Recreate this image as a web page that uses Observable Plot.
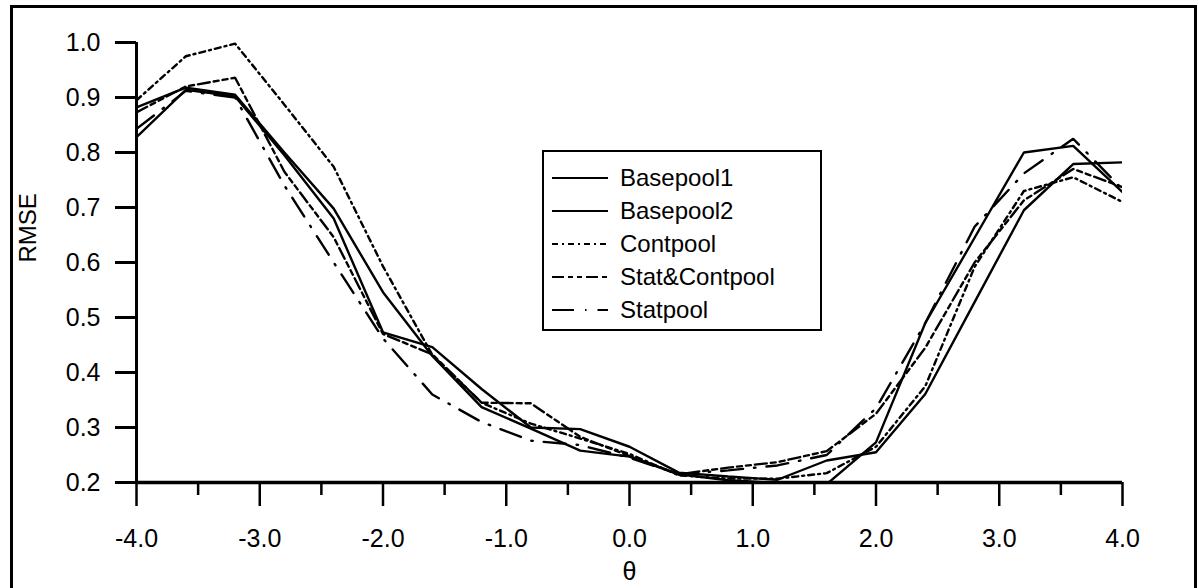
<!DOCTYPE html>
<html><head><meta charset="utf-8">
<script src="https://cdn.jsdelivr.net/npm/d3@7"></script>
<script src="https://cdn.jsdelivr.net/npm/@observablehq/plot@0.6"></script>
<style>
body{margin:0;background:#fff;}
#wrap{position:relative;width:1199px;height:588px;overflow:hidden;font-family:"Liberation Sans",Arial,Helvetica,sans-serif;background:#fff;}
#frame{position:absolute;left:10px;top:5px;width:1187px;height:620px;border:3px solid #000;box-sizing:border-box;pointer-events:none;}
#legend{position:absolute;left:542px;top:150px;width:280px;height:181px;border:2px solid #000;box-sizing:border-box;background:#fff;padding-top:9px;}
.row{height:33px;display:flex;align-items:center;font-size:24px;color:#000;}
.row svg{margin-left:8px;margin-right:12px;}
</style></head><body><div id="wrap"><div id="frame"></div></div>
<script>
const theta = [-4.0,-3.6,-3.2,-2.8,-2.4,-2.0,-1.6,-1.2,-0.8,-0.4,0.0,0.4,0.8,1.2,1.6,2.0,2.4,2.8,3.2,3.6,4.0];
const basepool1 = [0.882,0.918,0.905,0.800,0.698,0.546,0.430,0.337,0.298,0.258,0.247,0.215,0.204,0.199,0.197,0.273,0.490,0.645,0.800,0.812,0.728];
const basepool2 = [0.828,0.914,0.902,0.795,0.680,0.473,0.446,0.370,0.300,0.297,0.265,0.218,0.211,0.205,0.240,0.255,0.361,0.528,0.695,0.779,0.782];
const contpool  = [0.895,0.975,0.998,0.887,0.774,0.593,0.432,0.345,0.307,0.280,0.252,0.213,0.207,0.207,0.217,0.265,0.375,0.592,0.730,0.755,0.710];
const statcont  = [0.873,0.920,0.936,0.765,0.646,0.470,0.433,0.345,0.344,0.283,0.248,0.215,0.227,0.237,0.257,0.325,0.445,0.600,0.713,0.770,0.737];
const statpool  = [0.843,0.912,0.900,0.740,0.600,0.462,0.360,0.310,0.276,0.268,0.245,0.215,0.222,0.231,0.250,0.335,0.490,0.665,0.762,0.825,0.733];

const seriesNames = ["Basepool1","Basepool2","Contpool","Stat&Contpool","Statpool"];
const seriesValues = [basepool1, basepool2, contpool, statcont, statpool];
const seriesDash = [null, null, "6,4,2,4", "12,4,5,4,5,4", "22,11,1.5,11"];

const yTicks = [0.2,0.3,0.4,0.5,0.6,0.7,0.8,0.9,1.0];
const xMajor = [-4,-3,-2,-1,0,1,2,3,4];
const xMinor = [-3.5,-2.5,-1.5,-0.5,0.5,1.5,2.5,3.5];
const yTitle = "RMSE";
const xTitle = "θ";

const lineMarks = seriesNames.map((name, k) => {
  const data = theta.map((t, i) => ({theta: t, value: seriesValues[k][i]}));
  const opts = {x: "theta", y: "value", stroke: "#000", strokeWidth: 2.4, clip: true, strokeLinejoin: "miter"};
  if (seriesDash[k]) opts.strokeDasharray = seriesDash[k];
  return Plot.line(data, opts);
});

const chart = Plot.plot({
  width: 1199, height: 588,
  marginLeft: 136, marginRight: 77, marginTop: 42, marginBottom: 106,
  style: {fontFamily: "Liberation Sans, Arial, Helvetica, sans-serif", fontSize: "25px", color: "#000", background: "transparent", overflow: "visible"},
  x: {domain: [-4, 4]},
  y: {domain: [0.2, 1.0]},
  marks: [
    Plot.axisY({ticks: yTicks, tickSize: 21, tickPadding: 15, tickFormat: d => d.toFixed(1), strokeWidth: 3, label: null, fontSize: 25}),
    Plot.axisX({ticks: xMajor, tickSize: 24, tickPadding: 23, tickFormat: d => d.toFixed(1), strokeWidth: 2.5, label: null, fontSize: 25}),
    Plot.axisX({ticks: xMinor, tickSize: 13, tickFormat: () => "", strokeWidth: 2.5, label: null}),
    ...lineMarks,
    Plot.ruleX([-4], {strokeWidth: 3}),
    Plot.ruleY([0.2], {strokeWidth: 3.5}),
    Plot.text([yTitle], {text: d => d, frameAnchor: "left", dx: -108, rotate: -90, fontSize: 24}),
    Plot.text([xTitle], {text: d => d, frameAnchor: "bottom", dy: 97, fontSize: 25})
  ]
});
chart.style.position = "absolute";
chart.style.left = "0px";
chart.style.top = "0px";
const wrap = document.getElementById("wrap");
wrap.insertBefore(chart, wrap.firstChild);

// legend
const legend = document.createElement("div");
legend.id = "legend";
seriesNames.forEach((name, k) => {
  const row = document.createElement("div");
  row.className = "row";
  const ns = "http://www.w3.org/2000/svg";
  const s = document.createElementNS(ns, "svg");
  s.setAttribute("width", "56"); s.setAttribute("height", "10");
  const ln = document.createElementNS(ns, "line");
  ln.setAttribute("x1", "0"); ln.setAttribute("x2", "56");
  ln.setAttribute("y1", "5"); ln.setAttribute("y2", "5");
  ln.setAttribute("stroke", "#000"); ln.setAttribute("stroke-width", "2");
  if (seriesDash[k]) ln.setAttribute("stroke-dasharray", seriesDash[k]);
  s.appendChild(ln);
  row.appendChild(s);
  const span = document.createElement("span");
  span.textContent = name;
  row.appendChild(span);
  legend.appendChild(row);
});
wrap.appendChild(legend);
</script></body></html>
